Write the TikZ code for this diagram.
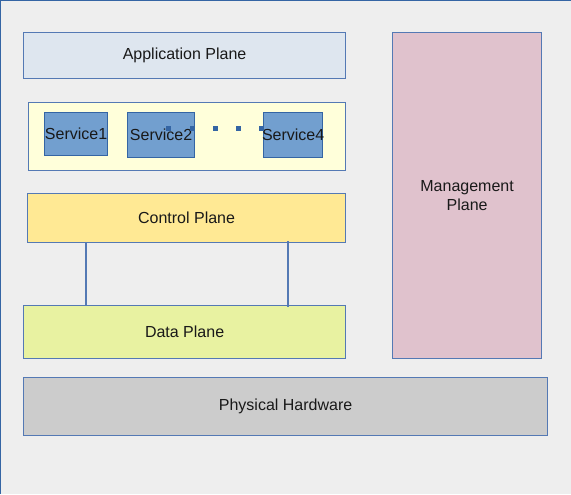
\documentclass[tikz,border=0pt]{standalone}
\usepackage{fontspec}
\setmainfont{Liberation Sans}
\usetikzlibrary{positioning}

\definecolor{bgcol}{HTML}{EEEEEE}
\definecolor{framecol}{HTML}{3465A4}
\definecolor{planeborder}{HTML}{5479B4}
\definecolor{appfill}{HTML}{DEE6EF}
\definecolor{svcboxfill}{HTML}{FFFFDA}
\definecolor{svcfill}{HTML}{729FCF}
\definecolor{svcborder}{HTML}{3465A4}
\definecolor{ctrlfill}{HTML}{FFE994}
\definecolor{datafill}{HTML}{E8F2A1}
\definecolor{mgmtfill}{HTML}{E0C2CD}
\definecolor{hwfill}{HTML}{CCCCCC}

\newcommand{\px}{0.75pt}

\tikzset{
    plane/.style={draw=planeborder, line width=0.9pt, inner sep=0pt, anchor=north west,
        align=center, text=black!90, font=\fontsize{12}{14}\selectfont},
    service/.style={plane, draw=svcborder, fill=svcfill},
    dotsq/.style={fill=svcborder, inner sep=0pt, minimum size=5*\px},
    link/.style={draw=planeborder, line width=0.9pt}
}

\begin{document}
\begin{tikzpicture}[x=\px, y=-\px]
    \useasboundingbox (0,0) rectangle (571,494);
    \fill[bgcol] (0,0) rectangle (571,494);
    \draw[framecol, line width=1.5pt] (0,494) -- (0,0) -- (571,0);

    % planes
    \node[plane, fill=appfill, minimum width=322*\px, minimum height=46*\px] (app) at (23,32) {Application Plane};
    \node[plane, fill=svcboxfill, minimum width=317*\px, minimum height=68*\px] (svcs) at (28,102) {};
    \node[plane, fill=ctrlfill, minimum width=318*\px, minimum height=49*\px] (ctrl) at (27,193) {Control Plane};
    \node[plane, fill=datafill, minimum width=322*\px, minimum height=53*\px] (data) at (23,305) {Data Plane};
    \node[plane, fill=mgmtfill, minimum width=149*\px, minimum height=326*\px] (mgmt) at (392,32) {Management\\Plane};
    \node[plane, fill=hwfill, minimum width=524*\px, minimum height=58*\px] (hw) at (23,377) {Physical Hardware};

    % services
    \node[service, minimum width=63*\px, minimum height=43*\px] (svc1) at (44,112) {Service1};
    \node[service, minimum width=67*\px, minimum height=45*\px] (svc2) at (127,112) {Service2};
    \node[service, inner xsep=-1.6*\px, minimum height=45*\px] (svc4) at (263,112) {Service4};
    \foreach \dx [count=\i] in {168,192,215,238,261}
        \node[dotsq] (dot\i) at (\dx,128) {};

    % control to data
    \draw[link] (86,0 |- ctrl.south) -- (86,0 |- data.north);
    \draw[link, shorten <=-1.5pt, shorten >=-1.5pt] (288,0 |- ctrl.south) -- (288,0 |- data.north);
\end{tikzpicture}
\end{document}
